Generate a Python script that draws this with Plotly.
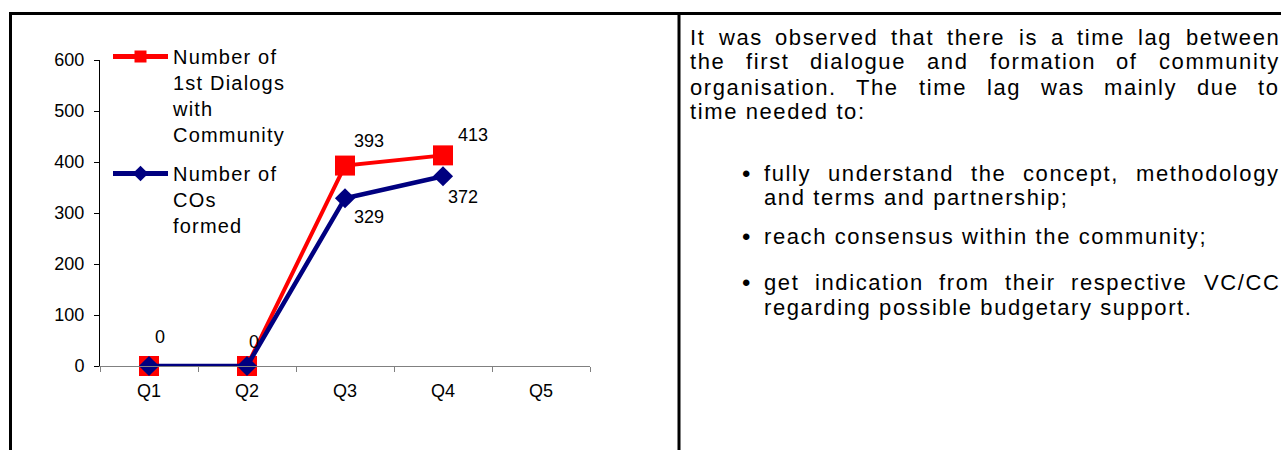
import plotly.graph_objects as go

# ---------------- data ----------------
quarters = ["Q1", "Q2", "Q3", "Q4", "Q5"]
dialogs = [0, 0, 393, 413, None]
cos_formed = [0, 0, 329, 372, None]
dialogs_name_lines = ["Number of", "1st Dialogs", "with", "Community"]
cos_name_lines = ["Number of", "COs", "formed"]
y_tick_values = [0, 100, 200, 300, 400, 500, 600]

paragraph_lines = [
    "It was observed that there is a time lag between",
    "the first dialogue and formation of community",
    "organisation. The time lag was mainly due to",
    "time needed to:",
]
bullet_items = [
    ["fully understand the concept, methodology", "and terms and partnership;"],
    ["reach consensus within the community;"],
    ["get indication from their respective VC/CC", "regarding possible budgetary support."],
]

# ---------------- layout constants ----------------
W, H = 1281, 450
PL, PR, PT, PB = 100, 590, 60, 366  # plot area in pixels
FONT = "Liberation Sans, Arial, Helvetica, sans-serif"
RED = "#FF0000"
NAVY = "#000080"


def px2x(px):
    return (px - PL) / (PR - PL)


def py2y(py):
    return (PB - py) / (PB - PT)


def spaced(s, ls):
    return "<span style='letter-spacing:%.2fpx'>%s</span>" % (ls, s)


# Arial advance widths (1/1000 em)
ARIAL = {" ": 278, ".": 278, ",": 278, ";": 278, ":": 278, "/": 278, "-": 333,
         "a": 556, "b": 556, "c": 500, "d": 556, "e": 556, "f": 278, "g": 556,
         "h": 556, "i": 222, "j": 222, "k": 500, "l": 222, "m": 833, "n": 556,
         "o": 556, "p": 556, "q": 556, "r": 333, "s": 500, "t": 278, "u": 556,
         "v": 500, "w": 722, "x": 500, "y": 500, "z": 500,
         "I": 278, "T": 611, "V": 667, "C": 722, "O": 778}

TEXT_FS = 22
TEXT_LS = 1.6


def text_width(s):
    return sum(ARIAL.get(c, 556) for c in s) * TEXT_FS / 1000 + TEXT_LS * len(s)


fig = go.Figure()

dialog_offsets = [(11, 29), (7, 24), (24, 25), (30, 20), None]
cos_offsets = [None, None, (24, -19), (20, -21), None]

fig.add_trace(go.Scatter(
    x=quarters, y=dialogs, mode="lines+markers",
    name="<br>".join(spaced(t, 1.2) for t in dialogs_name_lines),
    legendgroup="dialogs",
    line=dict(color=RED, width=4),
    marker=dict(symbol="square", size=20, color=RED),
    connectgaps=False, cliponaxis=False,
))
fig.add_trace(go.Scatter(
    x=quarters, y=cos_formed, mode="lines+markers",
    name="<br>".join(spaced(t, 1.2) for t in cos_name_lines),
    legendgroup="cos",
    line=dict(color=NAVY, width=4.5),
    marker=dict(symbol="diamond", size=15.5, color=NAVY),
    connectgaps=False, cliponaxis=False,
))

# data labels
for series, offsets in ((dialogs, dialog_offsets), (cos_formed, cos_offsets)):
    for q, v, off in zip(quarters, series, offsets):
        if v is None or off is None:
            continue
        fig.add_annotation(x=q, y=v, xref="x", yref="y", text=str(v),
                           showarrow=False, xshift=off[0], yshift=off[1],
                           font=dict(family=FONT, size=18, color="black"),
                           borderpad=0, borderwidth=0)


# right-hand text
def add_text(s, px, py, anchor="left"):
    fig.add_annotation(xref="paper", yref="paper", x=px2x(px), y=py2y(py),
                       xanchor=anchor, yanchor="middle", showarrow=False,
                       text=spaced(s, TEXT_LS),
                       font=dict(family=FONT, size=TEXT_FS, color="black"),
                       borderpad=0, borderwidth=0)


def add_line(s, x_left, x_right, py, justify):
    if not justify:
        add_text(s, x_left, py)
        return
    words = s.split(" ")
    widths = [text_width(w) for w in words]
    gap = (x_right + TEXT_LS - x_left - sum(widths)) / (len(words) - 1)
    x = x_left
    for i, (w, wd) in enumerate(zip(words, widths)):
        if i == len(words) - 1:
            add_text(w, x_right + TEXT_LS, py, anchor="right")
        else:
            add_text(w, x, py)
        x += wd + gap


TEXT_LEFT, TEXT_RIGHT = 690, 1278
para_y = [37, 62, 87, 112]
for i, (s, yy) in enumerate(zip(paragraph_lines, para_y)):
    add_line(s, TEXT_LEFT, TEXT_RIGHT, yy, justify=(i < len(paragraph_lines) - 1))

BULLET_X, BULLET_TEXT_X = 746, 764
bullet_y = [[173, 198], [237], [282, 307]]
for item, ys in zip(bullet_items, bullet_y):
    fig.add_annotation(xref="paper", yref="paper", x=px2x(BULLET_X), y=py2y(ys[0]),
                       xanchor="center", yanchor="middle", showarrow=False,
                       text="\u2022", font=dict(family=FONT, size=24, color="black"),
                       borderpad=0, borderwidth=0)
    for j, (s, yy) in enumerate(zip(item, ys)):
        add_line(s, BULLET_TEXT_X, TEXT_RIGHT, yy, justify=(j < len(item) - 1))

# table borders
border = dict(color="black", width=3)
fig.add_shape(type="line", xref="paper", yref="paper",
              x0=px2x(9), x1=px2x(W + 2), y0=py2y(13.5), y1=py2y(13.5), line=border)
fig.add_shape(type="line", xref="paper", yref="paper",
              x0=px2x(10.5), x1=px2x(10.5), y0=py2y(12), y1=py2y(H + 2), line=border)
fig.add_shape(type="line", xref="paper", yref="paper",
              x0=px2x(679), x1=px2x(679), y0=py2y(12), y1=py2y(H + 2), line=border)

fig.update_layout(
    width=W, height=H, autosize=False,
    margin=dict(l=PL, r=W - PR, t=PT, b=H - PB, pad=0),
    paper_bgcolor="white", plot_bgcolor="white",
    font=dict(family=FONT, size=18, color="black"),
    showlegend=True,
    legend=dict(x=px2x(108), y=py2y(37), xanchor="left", yanchor="top",
                bgcolor="rgba(0,0,0,0)", borderwidth=0,
                font=dict(family=FONT, size=20, color="black"),
                itemwidth=55, itemsizing="constant", valign="top",
                tracegroupgap=10),
    xaxis=dict(type="category", categoryorder="array", categoryarray=quarters,
               range=[-0.5, len(quarters) - 0.5], showgrid=False, zeroline=False,
               showline=True, linecolor="#808080", linewidth=1,
               ticks="outside", ticklen=5, tickcolor="#808080", tickwidth=1,
               tickson="boundaries", ticklabelstandoff=8,
               tickfont=dict(family=FONT, size=18, color="black"), fixedrange=True),
    yaxis=dict(range=[0, 600], tickvals=y_tick_values, showgrid=False, zeroline=False,
               showline=True, linecolor="#000000", linewidth=1,
               ticks="outside", ticklen=5, tickcolor="#000000", tickwidth=1,
               ticklabelstandoff=6,
               tickfont=dict(family=FONT, size=18, color="black"), fixedrange=True),
)

fig.write_html("out.html", config={"displayModeBar": False},
               post_script="document.body.style.margin='0';")
